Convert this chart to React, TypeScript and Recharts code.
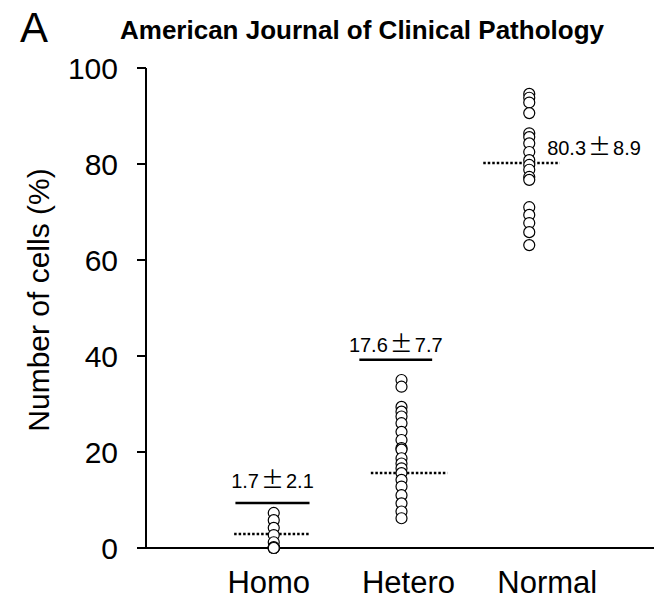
import React from 'react';
import { ScatterChart, Scatter, XAxis, YAxis, ReferenceLine, ReferenceDot } from 'recharts';

const categories = ['Homo', 'Hetero', 'Normal'];
const homoValues = [7.3, 5.8, 4.2, 2.7, 1.2, 0.2, 0, 0, 0, 0, 0, 0];
const heteroValues = [35, 33.6, 29.4, 28.4, 27.4, 26, 24.2, 22.5, 20.8, 20.5, 18.7, 17.6, 16.6, 15.6, 14.2, 12.8, 11, 9.3, 7.6, 6.2];
const normalValues = [94.6, 93.8, 92.8, 90.6, 86.4, 85.6, 84.3, 82.5, 80.8, 79.8, 78.8, 77.3, 76.7, 71, 69.4, 67.7, 65.8, 63.1];
const yTicks = [0, 20, 40, 60, 80, 100];
const summaryMeans = ['1.7', '17.6', '80.3'];
const summarySDs = ['2.1', '7.7', '8.9'];
// lines: [xStart, xEnd, y]
const solidLines = [
  [0.7, 1.28, 9.4],
  [1.67, 2.24, 39.2],
];
const dottedLines = [
  [0.69, 1.28, 2.9],
  [1.76, 2.36, 15.6],
  [2.64, 3.24, 80.2],
];

const FONT = 'Arial, "Liberation Sans", sans-serif';
const CJK = '"Noto Sans CJK JP", "Noto Sans CJK SC", sans-serif';

const toPoints = (vals: number[], x: number) => vals.map((y) => ({ x, y }));

const CircleShape = (props: any) => (
  <circle cx={props.cx} cy={props.cy} r={5.5} fill="#fff" stroke="#000" strokeWidth={1.2} />
);

const tickDx = [-5, 7, 18];

const XTick = (props: any) => {
  const { x, y, payload, index } = props;
  return (
    <text x={x + (tickDx[index] || 0)} y={y} dy={37} textAnchor="middle" fontSize={31} fill="#000" fontFamily={FONT}>
      {categories[payload.value - 1]}
    </text>
  );
};

const YLabel = (props: any) => {
  const vb = props.viewBox;
  const cx = 30;
  const cy = vb.y + vb.height / 2 - 8;
  return (
    <text x={cx} y={cy} transform={`rotate(-90 ${cx} ${cy})`} textAnchor="middle" dominantBaseline="central" fontSize={30} fill="#000" fontFamily={FONT}>
      Number of cells (%)
    </text>
  );
};

const summaryText = (i: number) => [
  <tspan key="m" fontFamily={FONT}>{summaryMeans[i]}</tspan>,
  <tspan key="p" fontFamily={CJK} fontSize={23} dx={2}>{'\u00b1'}</tspan>,
  <tspan key="s" fontFamily={FONT} dx={2}>{summarySDs[i]}</tspan>,
];

const gapAbove = [15, 8];

const SolidLabel = (idx: number) => (props: any) => {
  const vb = props.viewBox || {};
  const x1 = vb.x1 !== undefined ? vb.x1 : vb.x;
  const x2 = vb.x2 !== undefined ? vb.x2 : vb.x + (vb.width || 0);
  const y = vb.y1 !== undefined ? vb.y1 : vb.y;
  return (
    <text x={(x1 + x2) / 2} y={y - gapAbove[idx]} textAnchor="middle" fontSize={20} fill="#000">
      {summaryText(idx)}
    </text>
  );
};

const DotLabel = (props: any) => {
  const vb = props.viewBox || {};
  const cx = vb.cx !== undefined ? vb.cx : vb.x + (vb.width || 0) / 2;
  const cy = vb.cy !== undefined ? vb.cy : vb.y + (vb.height || 0) / 2;
  return (
    <text x={cx} y={cy} dy={7} textAnchor="start" fontSize={20} fill="#000">
      {summaryText(2)}
    </text>
  );
};

export default function App() {
  return (
    <div style={{ position: 'relative', width: 654, height: 600, fontFamily: FONT, background: '#fff' }}>
      <div style={{ position: 'absolute', left: 12, top: -4, fontSize: 42, lineHeight: '48px' }}>A</div>
      <div style={{ position: 'absolute', left: 0, width: 708, top: 7, textAlign: 'center', fontSize: 26, fontWeight: 'bold', lineHeight: '30px' }}>
        American Journal of Clinical Pathology
      </div>
      <ScatterChart width={654} height={600} margin={{ top: 60, right: 5, left: 0, bottom: 0 }}>
        <XAxis
          type="number"
          dataKey="x"
          domain={[0, 4]}
          ticks={[1, 2, 3]}
          tickLine={false}
          axisLine={{ stroke: '#000', strokeWidth: 2 }}
          height={60}
          tick={<XTick />}
        />
        <YAxis
          type="number"
          dataKey="y"
          domain={[0, 100]}
          ticks={yTicks}
          width={138}
          tickSize={9}
          tickMargin={19}
          axisLine={{ stroke: '#000', strokeWidth: 2 }}
          tickLine={{ stroke: '#000', strokeWidth: 2 }}
          tick={{ fontSize: 30, fill: '#000', fontFamily: FONT }}
          label={{ content: <YLabel /> }}
        />
        {solidLines.map((l, i) => (
          <ReferenceLine
            key={'s' + i}
            segment={[{ x: l[0], y: l[2] }, { x: l[1], y: l[2] }]}
            stroke="#000"
            strokeWidth={2.5}
            ifOverflow="visible"
            label={{ content: SolidLabel(i) }}
          />
        ))}
        {dottedLines.map((l, i) => (
          <ReferenceLine
            key={'d' + i}
            segment={[{ x: l[0], y: l[2] }, { x: l[1], y: l[2] }]}
            stroke="#000"
            strokeWidth={2.5}
            strokeDasharray="2.5 2"
            ifOverflow="visible"
          />
        ))}
        <Scatter data={toPoints(homoValues, 1)} shape={<CircleShape />} isAnimationActive={false} />
        <Scatter data={toPoints(heteroValues, 2)} shape={<CircleShape />} isAnimationActive={false} />
        <Scatter data={toPoints(normalValues, 3)} shape={<CircleShape />} isAnimationActive={false} />
        <ReferenceDot
          x={3.14}
          y={83.3}
          r={0}
          fill="none"
          stroke="none"
          ifOverflow="visible"
          label={{ content: DotLabel }}
        />
      </ScatterChart>
    </div>
  );
}
